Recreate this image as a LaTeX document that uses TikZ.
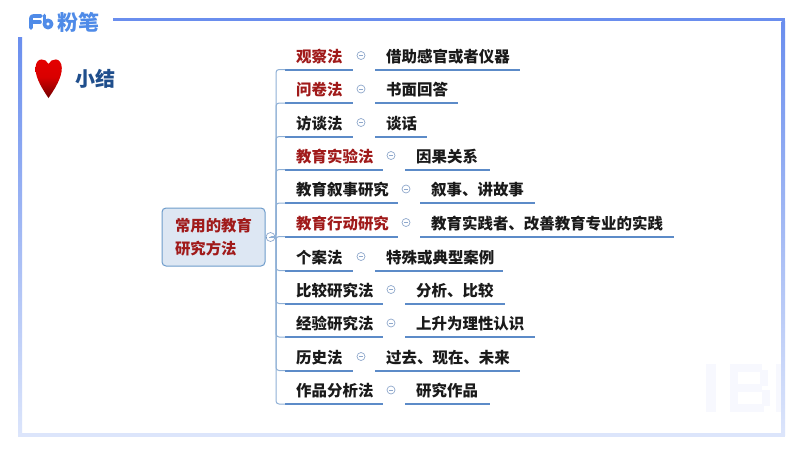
\documentclass[tikz,border=0pt]{standalone}
\usepackage{fontspec}
\setmainfont{Noto Sans CJK SC}
\usetikzlibrary{calc}
\definecolor{framea}{HTML}{6A8EEE}
\definecolor{frameb}{HTML}{DCE5FB}
\definecolor{logoblue}{HTML}{4F8BE8}
\definecolor{titleblue}{HTML}{1F4E8C}
\definecolor{hardred}{HTML}{A01A1A}
\definecolor{softblack}{HTML}{1A1A1A}
\definecolor{rule}{HTML}{5C8BC8}
\definecolor{branch}{HTML}{8FB0D6}
\definecolor{boxfill}{HTML}{DDE7F3}
\definecolor{boxline}{HTML}{6E9CCB}
\definecolor{circline}{HTML}{8FA8CC}
\definecolor{ghost}{HTML}{F7F8FE}
\tikzset{
  x=1pt,y=-1pt,
  lab/.style={font=\fontsize{15.45}{16}\selectfont\bfseries,anchor=west,inner sep=0pt,text=softblack},
  rulestyle/.style={draw=rule,line width=2pt},
  branchstyle/.style={draw=branch,line width=1pt,rounded corners=3pt},
  foldmark/.style={circle,draw=circline,line width=.7pt,minimum size=8pt,inner sep=0pt,fill=white},
  logostroke/.style={draw=logoblue,line width=3.6pt,line cap=round,line join=round},
}
\begin{document}
\begin{tikzpicture}
\useasboundingbox (0,0) rectangle (800,450);
\fill[white] (0,0) rectangle (800,450);
% watermark
\fill[ghost] (706,364) rectangle (716,412);
\fill[ghost] (730,364) rectangle (738,412);
\fill[ghost] (738,364) rectangle (762,372);
\fill[ghost] (738,384) rectangle (762,392);
\fill[ghost] (738,404) rectangle (764,412);
\fill[ghost] (760,370) rectangle (768,386);
\fill[ghost] (762,390) rectangle (770,406);
\fill[ghost] (776,364) rectangle (784,412);
% frame
\fill[framea] (113,17.5) rectangle (785,21);
\shade[top color=framea,bottom color=frameb] (781.5,21) rectangle (785,435);
\shade[top color=framea,bottom color=frameb] (18,37) rectangle (22,436);
\fill[frameb] (18,433) rectangle (785,437);
% logo
\draw[logostroke] (31,28) -- (31,18) .. controls (31,16.5) and (32,16) .. (33.5,16) -- (41,16);
\draw[logostroke] (31,22) -- (40,22);
\draw[logostroke] (44.5,15.5) -- (44.5,24);
\draw[logostroke] (48,24) circle[radius=3.6];
\node[inner sep=0pt,anchor=west,text=logoblue] (logob) at (57,22) {\fontsize{21}{21}\selectfont\bfseries 粉笔};
% heart
\shade[top color=red!90!black,bottom color=red!45!black,middle color=red!85!black]
  (48.5,64) .. controls (46,58) and (36,56.5) .. (35.5,68) .. controls (35.2,78) and (43,90) .. (48.5,98)
  .. controls (54,90) and (62,78) .. (61.8,68) .. controls (61.5,56.5) and (51,58) .. (48.5,64) -- cycle;
\node[inner sep=0pt,anchor=west,text=titleblue] (title) at (75.5,79) {\fontsize{20}{20}\selectfont\bfseries 小结};
% root
\node[draw=boxline,line width=1pt,fill=boxfill,rounded corners=4pt,minimum width=103pt,minimum height=58pt,inner sep=0pt,
  align=left,text=hardred,font=\fontsize{15.4}{23}\selectfont\bfseries] (root) at (213.5,237) {常用的教育\\研究方法};
\node[foldmark,minimum size=9pt] (hub) at (270.5,237) {};
\draw[circline,line width=.6pt] (268.5,237) -- (272.5,237);
\draw[boxline,line width=.8pt] (root.east) -- (hub.west);
\coordinate (trunk) at (276,237);
% rows
\foreach \i/\y/\ltext/\lcol/\cx/\rend/\rtext in {
 1/56.5/观察法/hardred/361/520/借助感官或者仪器,
 2/90/问卷法/hardred/361/458/书面回答,
 3/123.5/访谈法/softblack/361/427/谈话,
 4/156.5/教育实验法/hardred/391/490/因果关系,
 5/190/教育叙事研究/softblack/406/535/叙事、讲故事,
 6/223.5/教育行动研究/hardred/406/674/教育实践者、改善教育专业的实践,
 7/257.5/个案法/softblack/361/503/特殊或典型案例,
 8/290.5/比较研究法/softblack/391/505/分析、比较,
 9/324/经验研究法/softblack/391/535/上升为理性认识,
 10/357.5/历史法/softblack/361/520/过去、现在、未来,
 11/391/作品分析法/softblack/391/490/研究作品}
{
  \node[lab,text=\lcol] (l\i) at (296,\y) {\ltext};
  \node[foldmark] (c\i) at (\cx,\y-1) {};
  \draw[circline,line width=.6pt] (\cx-2,\y-1) -- (\cx+2,\y-1);
  \node[lab] (r\i) at (\cx+25,\y) {\rtext};
  \coordinate (la\i) at (285,\y+13);
  \coordinate (lb\i) at (\cx-8,\y+13);
  \coordinate (ra\i) at (\cx+14,\y+13);
  \coordinate (rb\i) at (\rend,\y+13);
  \draw[rulestyle] (la\i) -- (lb\i);
  \draw[rulestyle] (ra\i) -- (rb\i);
  \draw[branchstyle] (hub.east) -- (trunk) |- (la\i);
}
\end{tikzpicture}
\end{document}
